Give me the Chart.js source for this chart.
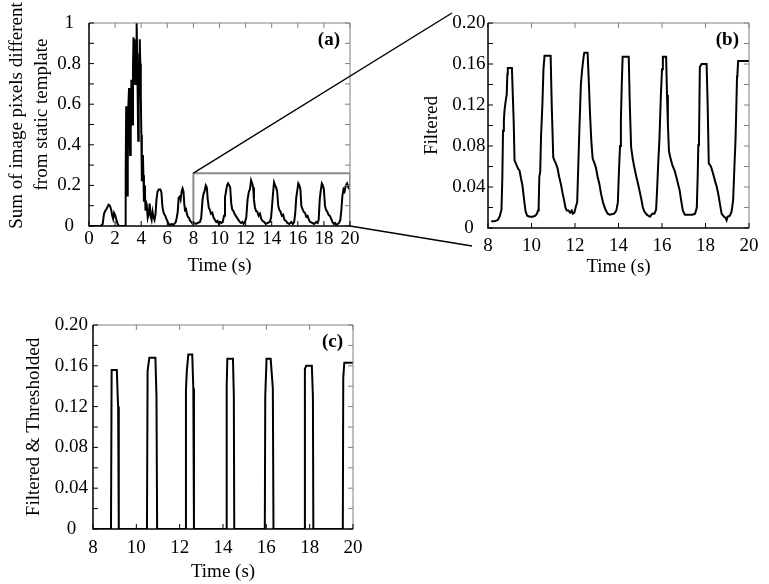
<!DOCTYPE html>
<html>
<head>
<meta charset="utf-8">
<script src="https://cdn.jsdelivr.net/npm/chart.js@4.4.1/dist/chart.umd.min.js"></script>
<style>
body{margin:0;background:#fff;}
#wrap{position:relative;width:769px;height:584px;background:#fff;}
canvas{position:absolute;}
</style>
</head>
<body>
<div id="wrap">
 <canvas id="chartA" style="left:0;top:0;width:380px;height:290px"></canvas>
 <canvas id="chartB" style="left:380px;top:0;width:389px;height:290px"></canvas>
 <canvas id="chartC" style="left:0;top:295px;width:380px;height:289px"></canvas>
 <canvas id="overlay" style="left:0;top:0;width:769px;height:584px;pointer-events:none"></canvas>
</div>
<script>
// (a) raw difference signal
let timeA=[0,0.9,1.05,1.15,1.25,1.35,1.5,1.6,1.7,1.78,1.85,1.92,2.0,2.1,2.2,2.3,2.78,
 2.81,2.85,2.89,2.93,2.97,3.02,3.07,3.1,3.15,3.2,3.25,3.29,3.33,3.37,3.41,3.45,3.49,3.53,3.57,
 3.61,3.65,3.69,3.73,3.77,3.81,3.85,3.89,3.93,3.97,4.01,4.05,4.09,4.13,4.17,4.21,4.25,4.29,
 4.33,4.36,4.42,4.5,4.58,4.65,4.72,4.8,4.87,4.94,5.02,5.1,5.17,5.25,
 5.35,5.47,5.55,5.62,5.68,5.75,5.85,5.93,6.0,6.1,6.2,6.35,6.45,6.55,6.65,6.72,6.8,6.87,
 6.95,7.02,7.1,7.17,7.24,7.3,7.36,7.42,7.5,7.58,7.66,7.75,7.85,7.95,8.05,8.2,8.35,8.5,
 8.6,8.7,8.78,8.85,8.95,9.03,9.1,9.18,9.26,9.35,9.45,9.55,9.65,9.75,9.85,9.95,10.05,10.15,
 10.25,10.35,10.42,10.5,10.58,10.66,10.75,10.82,10.9,10.98,11.06,11.15,11.25,11.35,11.45,
 11.55,11.65,11.75,11.85,11.95,12.05,12.15,12.25,12.33,12.42,12.5,12.58,12.64,12.72,12.8,
 12.9,13.0,13.1,13.2,13.3,13.42,13.55,13.7,13.85,13.95,14.03,14.1,14.18,14.26,14.34,14.42,
 14.5,14.58,14.68,14.78,14.88,14.98,15.1,15.2,15.35,15.5,15.62,15.72,15.8,15.88,15.96,
 16.04,16.12,16.2,16.27,16.35,16.45,16.55,16.65,16.75,16.85,16.95,17.1,17.25,17.4,17.52,
 17.6,17.68,17.75,17.84,17.92,18.0,18.08,18.16,18.26,18.36,18.46,18.56,18.66,18.76,18.86,
 18.96,19.06,19.16,19.26,19.34,19.42,19.5,19.58,19.68,19.78,19.88,19.96,20];
let rawA=[0,0,0.01,0.06,0.075,0.085,0.105,0.1,0.08,0.05,0.035,0.065,0.055,0.03,0.01,0,0,
 0.25,0.59,0.4,0.15,0.3,0.6,0.68,0.55,0.35,0.5,0.72,0.6,0.5,0.78,0.93,0.8,0.92,0.7,0.89,
 0.8,1.0,0.85,0.65,0.42,0.6,0.8,0.92,0.8,0.65,0.45,0.22,0.3,0.35,0.25,0.12,0.2,0.15,
 0.08,0.12,0.11,0.04,0.06,0.11,0.05,0.03,0.07,0.045,0.03,0.06,0.13,0.17,
 0.18,0.18,0.165,0.1,0.075,0.06,0.05,0.035,0.025,0.01,0.005,0.01,0.005,0.012,0.02,0.04,0.07,0.14,
 0.145,0.13,0.17,0.185,0.17,0.11,0.075,0.09,0.06,0.045,0.04,0.025,0.02,0.01,0.015,0.01,0.015,0.02,
 0.04,0.13,0.16,0.17,0.2,0.19,0.13,0.09,0.08,0.06,0.065,0.04,0.03,0.02,0.025,0.01,0.02,0.015,
 0.02,0.05,0.14,0.17,0.2,0.21,0.2,0.19,0.11,0.08,0.075,0.06,0.05,0.04,0.03,
 0.02,0.015,0.02,0.01,0.02,0.04,0.13,0.17,0.18,0.225,0.21,0.19,0.13,0.09,0.075,
 0.07,0.05,0.06,0.035,0.025,0.02,0.01,0.015,0.02,0.04,0.1,0.16,0.215,0.2,0.19,0.17,
 0.1,0.08,0.07,0.05,0.055,0.03,0.025,0.015,0.01,0.02,0.01,0.02,0.06,0.14,0.175,
 0.21,0.2,0.18,0.1,0.085,0.07,0.065,0.045,0.05,0.03,0.02,0.015,0.01,0.02,0.015,
 0.03,0.13,0.17,0.21,0.2,0.18,0.1,0.08,0.07,0.055,0.05,0.035,0.02,0.01,0.015,
 0.005,0.01,0.015,0.03,0.08,0.15,0.18,0.17,0.2,0.21,0.19,0.2,0.19];
let zoomBoxX=[8,8,20,20], zoomBoxY=[0,0.26,0.26,0];

// (b) filtered
let timeB=[8.15,8.3,8.46,8.55,8.62,8.66,8.69,8.73,8.76,8.82,8.86,8.89,8.91,9.1,9.14,9.18,9.22,
 9.3,9.38,9.45,9.52,9.58,9.63,9.68,9.73,9.8,9.92,10.05,10.18,10.25,10.3,10.33,10.36,10.4,10.44,
 10.5,10.55,10.6,10.88,10.93,11.0,11.05,11.12,11.2,11.27,11.35,11.42,11.5,11.56,11.62,11.7,
 11.78,11.85,11.9,11.97,12.04,12.1,12.15,12.2,12.27,12.33,12.4,12.43,12.58,12.64,12.69,12.75,
 12.81,12.88,12.96,13.04,13.12,13.2,13.3,13.4,13.5,13.6,13.8,13.9,13.97,14.02,14.07,14.11,
 14.15,14.19,14.47,14.52,14.58,14.65,14.73,14.82,14.9,14.96,15.05,15.12,15.19,15.3,15.45,
 15.55,15.65,15.73,15.78,15.83,15.88,15.95,16.0,16.04,16.19,16.23,16.27,16.32,16.38,16.48,
 16.58,16.68,16.75,16.81,16.88,16.96,17.05,17.2,17.4,17.52,17.6,17.64,17.67,17.7,17.74,17.82,
 18.05,18.1,18.15,18.25,18.35,18.45,18.52,18.58,18.66,18.74,18.85,18.92,18.97,19.02,19.12,
 19.2,19.27,19.33,19.38,19.42,19.45,19.47,19.5,20];
let filtB=[0.0065,0.0065,0.008,0.012,0.018,0.05,0.095,0.105,0.115,0.125,0.13,0.15,0.156,0.156,0.13,0.105,0.066,
 0.062,0.058,0.056,0.048,0.042,0.033,0.024,0.016,0.012,0.011,0.011,0.012,0.014,0.017,0.022,0.05,0.055,0.09,
 0.12,0.155,0.168,0.168,0.12,0.069,0.066,0.063,0.058,0.05,0.043,0.035,0.027,0.02,0.017,0.017,
 0.015,0.017,0.014,0.015,0.021,0.025,0.06,0.095,0.14,0.155,0.168,0.171,0.171,0.14,0.112,0.085,
 0.068,0.064,0.059,0.05,0.043,0.033,0.024,0.018,0.014,0.013,0.014,0.017,0.025,0.055,0.08,0.105,
 0.14,0.167,0.167,0.12,0.079,0.068,0.059,0.05,0.043,0.037,0.028,0.02,0.016,0.013,0.011,
 0.014,0.014,0.018,0.04,0.065,0.086,0.13,0.155,0.167,0.167,0.13,0.102,0.075,0.069,0.061,
 0.056,0.048,0.042,0.037,0.027,0.017,0.013,0.013,0.013,0.014,0.02,0.05,0.081,0.083,0.157,0.16,
 0.16,0.12,0.063,0.06,0.053,0.045,0.04,0.034,0.024,0.014,0.011,0.01,0.0075,0.011,0.012,
 0.016,0.027,0.06,0.086,0.12,0.148,0.151,0.163,0.163];

// (c) filtered & thresholded
let timeC=[8,8.83,8.86,9.1,9.14,9.16,9.19,10.49,10.52,10.6,10.88,10.93,10.96,12.28,12.29,12.33,12.4,
 12.58,12.63,12.66,14.15,14.17,14.2,14.46,14.5,14.52,15.93,15.95,16.01,16.2,16.3,16.33,17.76,17.78,
 17.84,18.1,18.15,18.17,19.53,19.55,19.6,20];
let threshC=[0,0,0.156,0.156,0.13,0.12,0,0,0.155,0.168,0.168,0.13,0,0,0.136,0.155,0.171,
 0.171,0.138,0,0,0.14,0.167,0.167,0.13,0,0,0.13,0.167,0.167,0.138,0,0,0.157,
 0.16,0.16,0.13,0,0,0.148,0.163,0.163];

// ticks
let xTicksA=[0,2,4,6,8,10,12,14,16,18,20];
let yTicksA=[0,0.2,0.4,0.6,0.8,1], yLabelsA=["0","0.2","0.4","0.6","0.8","1"];
let yMinorA=[0,0.1,0.2,0.3,0.4,0.5,0.6,0.7,0.8,0.9,1];
let xTicksB=[8,10,12,14,16,18,20];
let yTicksB=[0,0.04,0.08,0.12,0.16,0.2], yLabelsB=["0","0.04","0.08","0.12","0.16","0.20"];
let yMinorB=[0,0.02,0.04,0.06,0.08,0.1,0.12,0.14,0.16,0.18,0.2];

let serif='"Liberation Serif", "Times New Roman", serif';

function pts(xs,ys){return xs.map((x,i)=>({x:x,y:ys[i]}));}

// MATLAB style box with inward ticks + panel letter (+ own y title when given)
let boxTicks={
 id:'boxTicks',
 afterDatasetsDraw(chart,args,o){
  let {ctx,chartArea:a,scales:{x,y}}=chart;
  ctx.save();
  ctx.lineWidth=1;
  ctx.strokeStyle='#808080';
  ctx.beginPath();
  ctx.moveTo(a.left,a.top);ctx.lineTo(a.right,a.top);ctx.lineTo(a.right,a.bottom);
  o.xt.forEach(v=>{let p=x.getPixelForValue(v);ctx.moveTo(p,a.top);ctx.lineTo(p,a.top+5);});
  o.yt.forEach(v=>{let p=y.getPixelForValue(v);ctx.moveTo(a.right,p);ctx.lineTo(a.right-5,p);});
  ctx.stroke();
  ctx.strokeStyle='#000';
  ctx.lineWidth=1.5;
  ctx.beginPath();
  ctx.moveTo(a.left,a.top);ctx.lineTo(a.left,a.bottom);ctx.lineTo(a.right,a.bottom);
  ctx.stroke();
  ctx.lineWidth=1;
  ctx.beginPath();
  o.xt.forEach(v=>{let p=x.getPixelForValue(v);ctx.moveTo(p,a.bottom);ctx.lineTo(p,a.bottom-5);});
  o.yt.forEach(v=>{let p=y.getPixelForValue(v);ctx.moveTo(a.left,p);ctx.lineTo(a.left+5,p);});
  ctx.stroke();
  ctx.fillStyle='#000';
  ctx.font='bold 19px '+serif;
  ctx.textAlign='right';ctx.textBaseline='middle';
  ctx.fillText(o.letter,a.right-10,a.top+17);
  if(o.title){
   ctx.font='19px '+serif;
   ctx.textAlign='center';
   o.title.forEach((t,i)=>{
    ctx.save();
    ctx.translate(o.titleX[i],(a.top+a.bottom)/2-o.titleUp[i]);
    ctx.rotate(-Math.PI/2);
    ctx.fillText(t,0,0);
    ctx.restore();
   });
  }
  ctx.restore();
 }
};

function makeChart(id,cfg){
 return new Chart(document.getElementById(id),{
  type:'line',
  data:{datasets:cfg.datasets},
  plugins:[boxTicks],
  options:{
   responsive:false,animation:false,
   layout:{padding:cfg.pad},
   plugins:{legend:{display:false},tooltip:{enabled:false},
    boxTicks:{xt:cfg.xt,yt:cfg.yMinor,letter:cfg.letter,title:cfg.ownTitle,titleX:cfg.ownTitleX,titleUp:cfg.ownTitleUp}},
   elements:{point:{radius:0},line:{tension:0}},
   scales:{
    x:{type:'linear',min:cfg.xMin,max:20,
     afterBuildTicks:s=>{s.ticks=cfg.xt.map(v=>({value:v}));},
     afterFit:s=>{s.height=cfg.xH;},
     grid:{display:false,drawTicks:false},border:{display:false},
     ticks:{color:'#000',padding:cfg.xPad,font:{family:serif,size:19},maxRotation:0,autoSkip:false,
      callback:v=>String(v)},
     title:{display:true,text:'Time (s)',color:'#000',font:{family:serif,size:19},
      padding:{top:0,bottom:cfg.xTitlePad}}},
    y:{type:'linear',min:0,max:cfg.yMax,
     afterBuildTicks:s=>{s.ticks=cfg.yt.map(v=>({value:v}));},
     afterFit:s=>{s.width=cfg.yW;},
     grid:{display:false,drawTicks:false},border:{display:false},
     ticks:{color:'#000',padding:cfg.yPad,crossAlign:'center',font:{family:serif,size:19},
      callback:(v,i)=>cfg.yl[i]},
     title:{display:!!cfg.yTitle,text:cfg.yTitle||'',color:'#000',font:{family:serif,size:19},
      padding:{top:cfg.yTitlePad||0,bottom:0}}}
   }
  }
 });
}

let chartA=makeChart('chartA',{
 datasets:[
  {data:pts(zoomBoxX,zoomBoxY),borderColor:'#8c8c8c',borderWidth:2},
  {data:pts(timeA,rawA),borderColor:'#000',borderWidth:2}
 ],
 pad:{top:23,right:30,left:0,bottom:0},
 xMin:0,xt:xTicksA,xH:64,xPad:2,xTitlePad:13,
 yMax:1,yt:yTicksA,yl:yLabelsA,yMinor:yMinorA,yW:89,yPad:8,
 ownTitle:['Sum of image pixels different','from static template'],
 ownTitleX:[17,42],ownTitleUp:[9,10],letter:'(a)'
});
let chartB=makeChart('chartB',{
 datasets:[{data:pts(timeB,filtB),borderColor:'#000',borderWidth:2}],
 pad:{top:23,right:20,left:0,bottom:0},
 xMin:8,xt:xTicksB,xH:62,xPad:7,xTitlePad:12,
 yMax:0.2,yt:yTicksB,yl:yLabelsB,yMinor:yMinorB,yW:108,yPad:2.5,yTitlePad:41,
 yTitle:'Filtered',letter:'(b)'
});
let chartC=makeChart('chartC',{
 datasets:[{data:pts(timeC,threshC),borderColor:'#000',borderWidth:2}],
 pad:{top:30,right:27,left:0,bottom:0},
 xMin:8,xt:xTicksB,xH:55,xPad:8,xTitlePad:1,
 yMax:0.2,yt:yTicksB,yl:yLabelsB,yMinor:yMinorB,yW:93,yPad:5,yTitlePad:23,
 yTitle:'Filtered & Thresholded',letter:'(c)'
});

// zoom connector lines from box in (a) to panel (b)
let ov=document.getElementById('overlay');
ov.width=769;ov.height=584;
let octx=ov.getContext('2d');
let bLeft=380+chartB.chartArea.left, bTop=chartB.chartArea.top, bBottom=chartB.chartArea.bottom;
octx.strokeStyle='#000';octx.lineWidth=1.4;
octx.beginPath();
octx.moveTo(chartA.scales.x.getPixelForValue(8),chartA.scales.y.getPixelForValue(0.26));
octx.lineTo(bLeft-36,bTop-10);
octx.moveTo(chartA.scales.x.getPixelForValue(20),chartA.scales.y.getPixelForValue(0));
octx.lineTo(bLeft-16,bBottom+18);
octx.stroke();
</script>
</body>
</html>
